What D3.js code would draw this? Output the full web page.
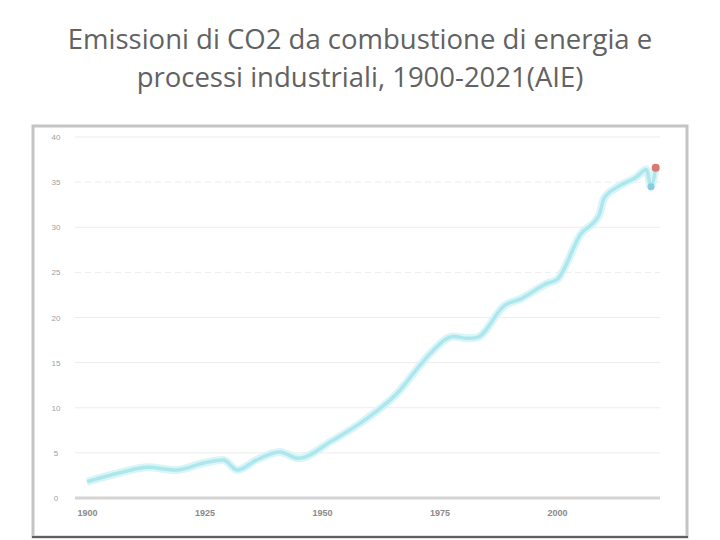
<!DOCTYPE html>
<html>
<head>
<meta charset="utf-8">
<script src="https://cdn.jsdelivr.net/npm/d3@7"></script>
<style>
  body { margin: 0; background: #fff; }
  svg { display: block; font-family: "Open Sans", sans-serif; }
</style>
</head>
<body>
<svg width="720" height="540"></svg>
<script>
// title lines
var titleLines = [
  "Emissioni di CO2 da combustione di energia e",
  "processi industriali, 1900-2021(AIE)"
];

// values (Gt CO2)
var years = [1900, 1907, 1913, 1919, 1925, 1929, 1932, 1936, 1941, 1945,
  1952, 1959, 1966, 1971, 1973, 1978, 1981, 1983, 1989, 1992,
  1998, 2000, 2005, 2009, 2010, 2013, 2017, 2019, 2020, 2021];
var emissions = [1.8, 2.8, 3.4, 3.1, 3.9, 4.2, 3.1, 4.2, 5.1, 4.4,
  6.3, 8.6, 11.6, 14.8, 16.0, 17.9, 17.7, 17.8, 21.4, 22.0,
  23.8, 24.2, 29.2, 31.4, 33.2, 34.5, 35.6, 36.4, 34.5, 36.6];

var yTicks = [0, 5, 10, 15, 20, 25, 30, 35, 40];
var xTicks = [1900, 1925, 1950, 1975, 2000];

var svg = d3.select("svg");

svg.append("g")
  .selectAll("text")
  .data(titleLines)
  .enter()
  .append("text")
  .attr("x", 360)
  .attr("y", function (d, i) { return 49 + i * 38; })
  .attr("text-anchor", "middle")
  .style("font-size", "27.5px")
  .style("fill", "#626262")
  .text(function (d) { return d; });

// frame
svg.append("rect")
  .attr("x", 33).attr("y", 126)
  .attr("width", 654).attr("height", 411)
  .style("fill", "#fff")
  .style("stroke", "#c4c4c4")
  .style("stroke-width", 3);
svg.append("line")
  .attr("x1", 32).attr("x2", 688)
  .attr("y1", 537).attr("y2", 537)
  .style("stroke", "#606060")
  .style("stroke-width", 2);

var x = d3.scaleLinear().domain([1900, 2025]).range([87, 674.5]);
var y = d3.scaleLinear().domain([0, 40]).range([498, 137]);

// grid
svg.append("g")
  .selectAll("line")
  .data(yTicks.slice(1))
  .enter()
  .append("line")
  .attr("x1", 75).attr("x2", 660)
  .attr("y1", function (d) { return y(d); })
  .attr("y2", function (d) { return y(d); })
  .style("stroke", "#ececec")
  .style("stroke-dasharray", function (d) { return d == 35 || d == 25 ? "6,4" : null; })
  .style("stroke-width", 1);

var yAxis = svg.append("g")
  .attr("transform", "translate(62,0)")
  .call(d3.axisLeft(y).tickValues(yTicks).tickSize(0).tickPadding(0));
yAxis.select(".domain").remove();
yAxis.selectAll("text")
  .style("font-size", "8px")
  .style("fill", "#a0a0a0")
  .attr("text-anchor", "middle")
  .attr("x", -6);

var xAxis = svg.append("g")
  .attr("transform", "translate(0,498)")
  .call(d3.axisBottom(x).tickValues(xTicks).tickFormat(d3.format("d")).tickSize(0).tickPadding(12));
xAxis.select(".domain").remove();
xAxis.selectAll("text")
  .style("font-size", "9px")
  .style("font-weight", "bold")
  .style("fill", "#8a8a8a");

svg.append("line")
  .attr("x1", 75).attr("x2", 660)
  .attr("y1", 498).attr("y2", 498)
  .style("stroke", "#d4d4d4")
  .style("stroke-width", 3);

var data = years.map(function (d, i) { return { year: d, value: emissions[i] }; });

var line = d3.line()
  .x(function (d) { return x(d.year); })
  .y(function (d) { return y(d.value); })
  .curve(d3.curveMonotoneX);

svg.append("path")
  .datum(data)
  .attr("d", line)
  .style("fill", "none")
  .style("stroke", "#d9f5f7")
  .style("stroke-width", 8)
  .style("stroke-linejoin", "round");
svg.append("path")
  .datum(data)
  .attr("d", line)
  .style("fill", "none")
  .style("stroke", "#ade7ee")
  .style("stroke-width", 3.5)
  .style("stroke-linejoin", "round");

var last = data[data.length - 1];
var prev = data[data.length - 2];
svg.append("circle")
  .attr("cx", x(prev.year)).attr("cy", y(prev.value))
  .attr("r", 3.5)
  .style("fill", "#86cde2");
svg.append("circle")
  .attr("cx", x(last.year)).attr("cy", y(last.value))
  .attr("r", 4)
  .style("fill", "#d9796f");
</script>
</body>
</html>
